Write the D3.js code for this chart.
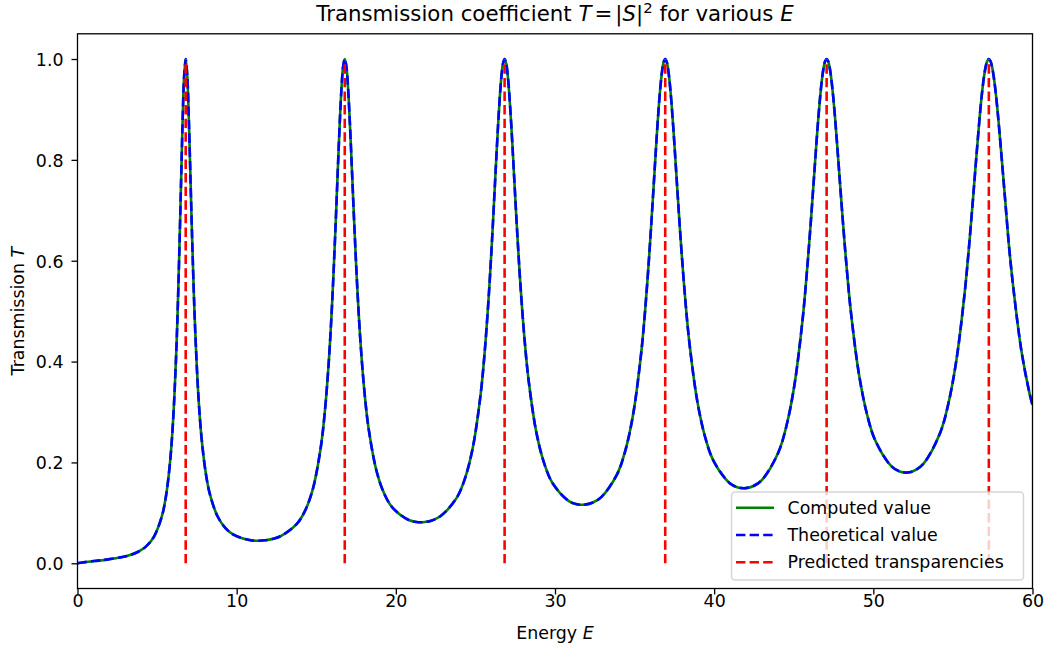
<!DOCTYPE html>
<html><head><meta charset="utf-8">
<script src="https://cdn.jsdelivr.net/npm/d3@7"></script>
<style>
body{margin:0;background:#fff}
svg{display:block}
text{font-family:"DejaVu Sans",sans-serif;fill:#000}
</style>
</head><body>
<svg id="chart" width="1046" height="653"></svg>
<script>
// ---- data ----
const energy = [
 0, 0.332, 0.829, 1.3, 1.824, 2.819, 3.3, 3.814, 4.311, 4.808, 5.306, 5.555, 5.803, 6.002, 6.201, 6.301, 6.400, 6.500, 6.599, 6.698, 6.798,
 6.898, 6.998, 7.098, 7.198, 7.298, 7.398, 7.597, 7.797, 8.047, 8.297, 8.797, 9.296, 9.796, 10.795, 11.295, 11.795,
 12.294, 12.794, 13.793, 14.293, 14.793, 15.292, 15.542, 15.792, 15.992, 16.191, 16.291, 16.391, 16.491, 16.591, 16.691, 16.791,
 16.891, 16.992, 17.092, 17.193, 17.293, 17.394, 17.594, 17.795, 18.046, 18.297, 18.800, 19.302, 19.804, 20.808, 21.310, 21.813,
 22.315, 22.817, 23.821, 24.323, 24.825, 25.328, 25.579, 25.830, 26.031, 26.231, 26.332, 26.432, 26.533, 26.633, 26.734, 26.834,
 26.935, 27.036, 27.137, 27.238, 27.339, 27.439, 27.641, 27.843, 28.095, 28.348, 28.852, 29.357, 29.861, 30.870, 31.375, 31.880,
 32.384, 32.889, 33.898, 34.402, 34.907, 35.411, 35.664, 35.916, 36.118, 36.320, 36.420, 36.521, 36.622, 36.723, 36.824, 36.925,
 37.026, 37.128, 37.229, 37.331, 37.432, 37.533, 37.736, 37.939, 38.193, 38.446, 38.953, 39.460, 39.967, 40.981, 41.488, 41.996,
 42.503, 43.010, 44.024, 44.531, 45.038, 45.545, 45.798, 46.052, 46.255, 46.457, 46.559, 46.660, 46.762, 46.863, 46.965, 47.066,
 47.168, 47.270, 47.372, 47.474, 47.576, 47.677, 47.881, 48.085, 48.340, 48.595, 49.104, 49.614, 50.123, 51.142, 51.652, 52.162,
 52.671, 53.181, 54.200, 54.709, 55.219, 55.728, 55.983, 56.238, 56.442, 56.646, 56.747, 56.849, 56.951, 57.053, 57.155, 57.257,
 57.359, 57.462, 57.564, 57.667, 57.769, 57.871, 58.076, 58.281, 58.537, 58.793, 59.305, 59.817, 60.0
];
const computedT = [
 0, 0.0017, 0.0037, 0.0053, 0.0073, 0.0124, 0.0163, 0.0229, 0.0335, 0.0530, 0.0938, 0.1324, 0.1965, 0.2808, 0.4155, 0.5089, 0.6212, 0.7472, 0.8708, 0.9647, 1.0,
 0.9657, 0.8773, 0.7635, 0.6487, 0.5458, 0.4592, 0.3311, 0.2476, 0.1814, 0.1397, 0.0932, 0.0698, 0.0570, 0.0460, 0.0447, 0.0456,
 0.0486, 0.0542, 0.0787, 0.1039, 0.1481, 0.2316, 0.3012, 0.4019, 0.5124, 0.6521, 0.7302, 0.8093, 0.8833, 0.9448, 0.9857, 1.0,
 0.9858, 0.9460, 0.8870, 0.8166, 0.7420, 0.6684, 0.5366, 0.4314, 0.3341, 0.2656, 0.1815, 0.1360, 0.1099, 0.0859, 0.0819, 0.0819,
 0.0855, 0.0936, 0.1297, 0.1662, 0.2275, 0.3351, 0.4174, 0.5261, 0.6334, 0.7541, 0.8154, 0.8736, 0.9248, 0.9652, 0.9911, 1.0,
 0.9912, 0.9657, 0.9264, 0.8769, 0.8211, 0.7626, 0.6475, 0.5452, 0.4410, 0.3613, 0.2558, 0.1947, 0.1582, 0.1234, 0.1171, 0.1163,
 0.1206, 0.1306, 0.1764, 0.2216, 0.2949, 0.4158, 0.5022, 0.6091, 0.7076, 0.8109, 0.8605, 0.9060, 0.9449, 0.9748, 0.9936, 1.0,
 0.9936, 0.9750, 0.9458, 0.9079, 0.8639, 0.8161, 0.7169, 0.6226, 0.5199, 0.4366, 0.3191, 0.2471, 0.2026, 0.1587, 0.1505, 0.1490,
 0.1538, 0.1655, 0.2193, 0.2712, 0.3527, 0.4803, 0.5668, 0.6686, 0.7579, 0.8471, 0.8885, 0.9256, 0.9567, 0.9803, 0.9950, 1.0,
 0.9950, 0.9805, 0.9573, 0.9268, 0.8907, 0.8505, 0.7644, 0.6785, 0.5806, 0.4972, 0.3736, 0.2941, 0.2434, 0.1921, 0.1822, 0.1800,
 0.1852, 0.1985, 0.2588, 0.3158, 0.4029, 0.5331, 0.6176, 0.7133, 0.7941, 0.8721, 0.9074, 0.9387, 0.9645, 0.9839, 0.9959, 1.0,
 0.9960, 0.9840, 0.9649, 0.9395, 0.9090, 0.8746, 0.7990, 0.7210, 0.6247, 0.5471, 0.4211, 0.3365, 0.3140
];
const theoreticalT = [
 0, 0.0017, 0.0037, 0.0053, 0.0073, 0.0124, 0.0163, 0.0229, 0.0335, 0.0530, 0.0938, 0.1324, 0.1965, 0.2808, 0.4155, 0.5089, 0.6212, 0.7472, 0.8708, 0.9647, 1.0,
 0.9657, 0.8773, 0.7635, 0.6487, 0.5458, 0.4592, 0.3311, 0.2476, 0.1814, 0.1397, 0.0932, 0.0698, 0.0570, 0.0460, 0.0447, 0.0456,
 0.0486, 0.0542, 0.0787, 0.1039, 0.1481, 0.2316, 0.3012, 0.4019, 0.5124, 0.6521, 0.7302, 0.8093, 0.8833, 0.9448, 0.9857, 1.0,
 0.9858, 0.9460, 0.8870, 0.8166, 0.7420, 0.6684, 0.5366, 0.4314, 0.3341, 0.2656, 0.1815, 0.1360, 0.1099, 0.0859, 0.0819, 0.0819,
 0.0855, 0.0936, 0.1297, 0.1662, 0.2275, 0.3351, 0.4174, 0.5261, 0.6334, 0.7541, 0.8154, 0.8736, 0.9248, 0.9652, 0.9911, 1.0,
 0.9912, 0.9657, 0.9264, 0.8769, 0.8211, 0.7626, 0.6475, 0.5452, 0.4410, 0.3613, 0.2558, 0.1947, 0.1582, 0.1234, 0.1171, 0.1163,
 0.1206, 0.1306, 0.1764, 0.2216, 0.2949, 0.4158, 0.5022, 0.6091, 0.7076, 0.8109, 0.8605, 0.9060, 0.9449, 0.9748, 0.9936, 1.0,
 0.9936, 0.9750, 0.9458, 0.9079, 0.8639, 0.8161, 0.7169, 0.6226, 0.5199, 0.4366, 0.3191, 0.2471, 0.2026, 0.1587, 0.1505, 0.1490,
 0.1538, 0.1655, 0.2193, 0.2712, 0.3527, 0.4803, 0.5668, 0.6686, 0.7579, 0.8471, 0.8885, 0.9256, 0.9567, 0.9803, 0.9950, 1.0,
 0.9950, 0.9805, 0.9573, 0.9268, 0.8907, 0.8505, 0.7644, 0.6785, 0.5806, 0.4972, 0.3736, 0.2941, 0.2434, 0.1921, 0.1822, 0.1800,
 0.1852, 0.1985, 0.2588, 0.3158, 0.4029, 0.5331, 0.6176, 0.7133, 0.7941, 0.8721, 0.9074, 0.9387, 0.9645, 0.9839, 0.9959, 1.0,
 0.9960, 0.9840, 0.9649, 0.9395, 0.9090, 0.8746, 0.7990, 0.7210, 0.6247, 0.5471, 0.4211, 0.3365, 0.3140
];
const predictedE = [6.798, 16.791, 26.834, 36.925, 47.066, 57.257];
const xTicks = [0, 10, 20, 30, 40, 50, 60];
const xTickLabels = ["0", "10", "20", "30", "40", "50", "60"];
const yTicks = [0, 0.2, 0.4, 0.6, 0.8, 1.0];
const yTickLabels = ["0.0", "0.2", "0.4", "0.6", "0.8", "1.0"];
const legendLabels = ["Computed value", "Theoretical value", "Predicted transparencies"];
const seriesColors = ["#008000", "#0000ff", "#ff0000"];

// ---- layout ----
const FS = 17.4, TFS = 21.3;
const m = {left: 77.5, right: 1032.5, top: 33.8, bottom: 588.5};
const x = d3.scaleLinear().domain([0, 60]).range([m.left, m.right]);
const y = d3.scaleLinear().domain([-0.05, 1.05]).range([m.bottom, m.top]);
const LW = 2.6, DASH = "9.4,4.2";

const svg = d3.select("#chart");
svg.append("rect").attr("width", 1046).attr("height", 653).attr("fill", "#fff");

svg.append("defs").append("clipPath").attr("id", "clip")
  .append("rect").attr("x", m.left).attr("y", m.top)
  .attr("width", m.right - m.left).attr("height", m.bottom - m.top);

const plot = svg.append("g").attr("clip-path", "url(#clip)");

const line = (arr) => d3.line()
  .x((d, i) => x(energy[i]))
  .y((d, i) => y(arr[i]))
  .curve(d3.curveCatmullRom.alpha(0.5))(arr);

plot.append("path").attr("d", line(computedT))
  .attr("fill", "none").attr("stroke", seriesColors[0]).attr("stroke-width", LW)
  .attr("stroke-linejoin", "round");
plot.append("path").attr("d", line(theoreticalT))
  .attr("fill", "none").attr("stroke", seriesColors[1]).attr("stroke-width", LW)
  .attr("stroke-dasharray", DASH).attr("stroke-linejoin", "round");

plot.selectAll("line.pred").data(predictedE).enter().append("line")
  .attr("class", "pred")
  .attr("x1", d => x(d)).attr("x2", d => x(d))
  .attr("y1", y(0)).attr("y2", y(1))
  .attr("stroke", seriesColors[2]).attr("stroke-width", LW)
  .attr("stroke-dasharray", DASH);

// ---- axes ----
const xAxis = svg.append("g").attr("transform", `translate(0,${m.bottom})`)
  .call(d3.axisBottom(x).tickValues(xTicks).tickFormat((d, i) => xTickLabels[i]).tickSize(6));
xAxis.select(".domain").remove();
xAxis.selectAll("line").attr("stroke", "#000").attr("stroke-width", 1.3);
xAxis.selectAll("text").attr("y", 18.5).attr("dy", 0)
  .style("font-size", FS + "px").style("font-family", "DejaVu Sans").attr("fill", "#000");

const yAxis = svg.append("g").attr("transform", `translate(${m.left},0)`)
  .call(d3.axisLeft(y).tickValues(yTicks).tickFormat((d, i) => yTickLabels[i]).tickSize(6));
yAxis.select(".domain").remove();
yAxis.selectAll("line").attr("stroke", "#000").attr("stroke-width", 1.3);
yAxis.selectAll("text").attr("x", -14).attr("dy", 0).attr("y", 6.3)
  .style("font-size", FS + "px").style("font-family", "DejaVu Sans").attr("fill", "#000");

svg.append("rect").attr("x", m.left).attr("y", m.top)
  .attr("width", m.right - m.left).attr("height", m.bottom - m.top)
  .attr("fill", "none").attr("stroke", "#000").attr("stroke-width", 1.3);

// ---- labels ----
const xl = svg.append("text").attr("x", (m.left + m.right) / 2).attr("y", 639)
  .attr("text-anchor", "middle").style("font-size", FS + "px");
xl.append("tspan").text("Energy ");
xl.append("tspan").attr("font-style", "italic").text("E");

const yl = svg.append("text").attr("transform", `translate(24,${(m.top + m.bottom) / 2}) rotate(-90)`)
  .attr("text-anchor", "middle").style("font-size", FS + "px");
yl.append("tspan").text("Transmission ");
yl.append("tspan").attr("font-style", "italic").text("T");

const title = svg.append("text").attr("x", (m.left + m.right) / 2).attr("y", 21)
  .attr("text-anchor", "middle").style("font-size", TFS + "px");
title.append("tspan").text("Transmission coefficient ");
title.append("tspan").attr("font-style", "italic").text("T");
title.append("tspan").attr("dx", 3).text("=");
title.append("tspan").attr("dx", 3).text("|");
title.append("tspan").attr("font-style", "italic").text("S");
title.append("tspan").text("|");
title.append("tspan").attr("dy", -8).style("font-size", (TFS * 0.7) + "px").text("2");
title.append("tspan").attr("dy", 8).text(" for various ");
title.append("tspan").attr("font-style", "italic").text("E");

// ---- legend ----
const lg = svg.append("g");
lg.append("rect").attr("x", 731.5).attr("y", 492).attr("width", 292).attr("height", 88)
  .attr("rx", 3.5).attr("fill", "#fff").attr("fill-opacity", 0.8)
  .attr("stroke", "#cccccc").attr("stroke-opacity", 0.8).attr("stroke-width", 1.5);
const rowsY = [507.7, 535, 562.3];
legendLabels.forEach((lab, i) => {
  const ln = lg.append("line").attr("x1", 736).attr("x2", 774)
    .attr("y1", rowsY[i]).attr("y2", rowsY[i])
    .attr("stroke", seriesColors[i]).attr("stroke-width", LW);
  if (i > 0) ln.attr("stroke-dasharray", DASH);
  lg.append("text").attr("x", 787.5).attr("y", rowsY[i] + 5.8)
    .style("font-size", FS + "px").text(lab);
});
</script>
</body></html>
